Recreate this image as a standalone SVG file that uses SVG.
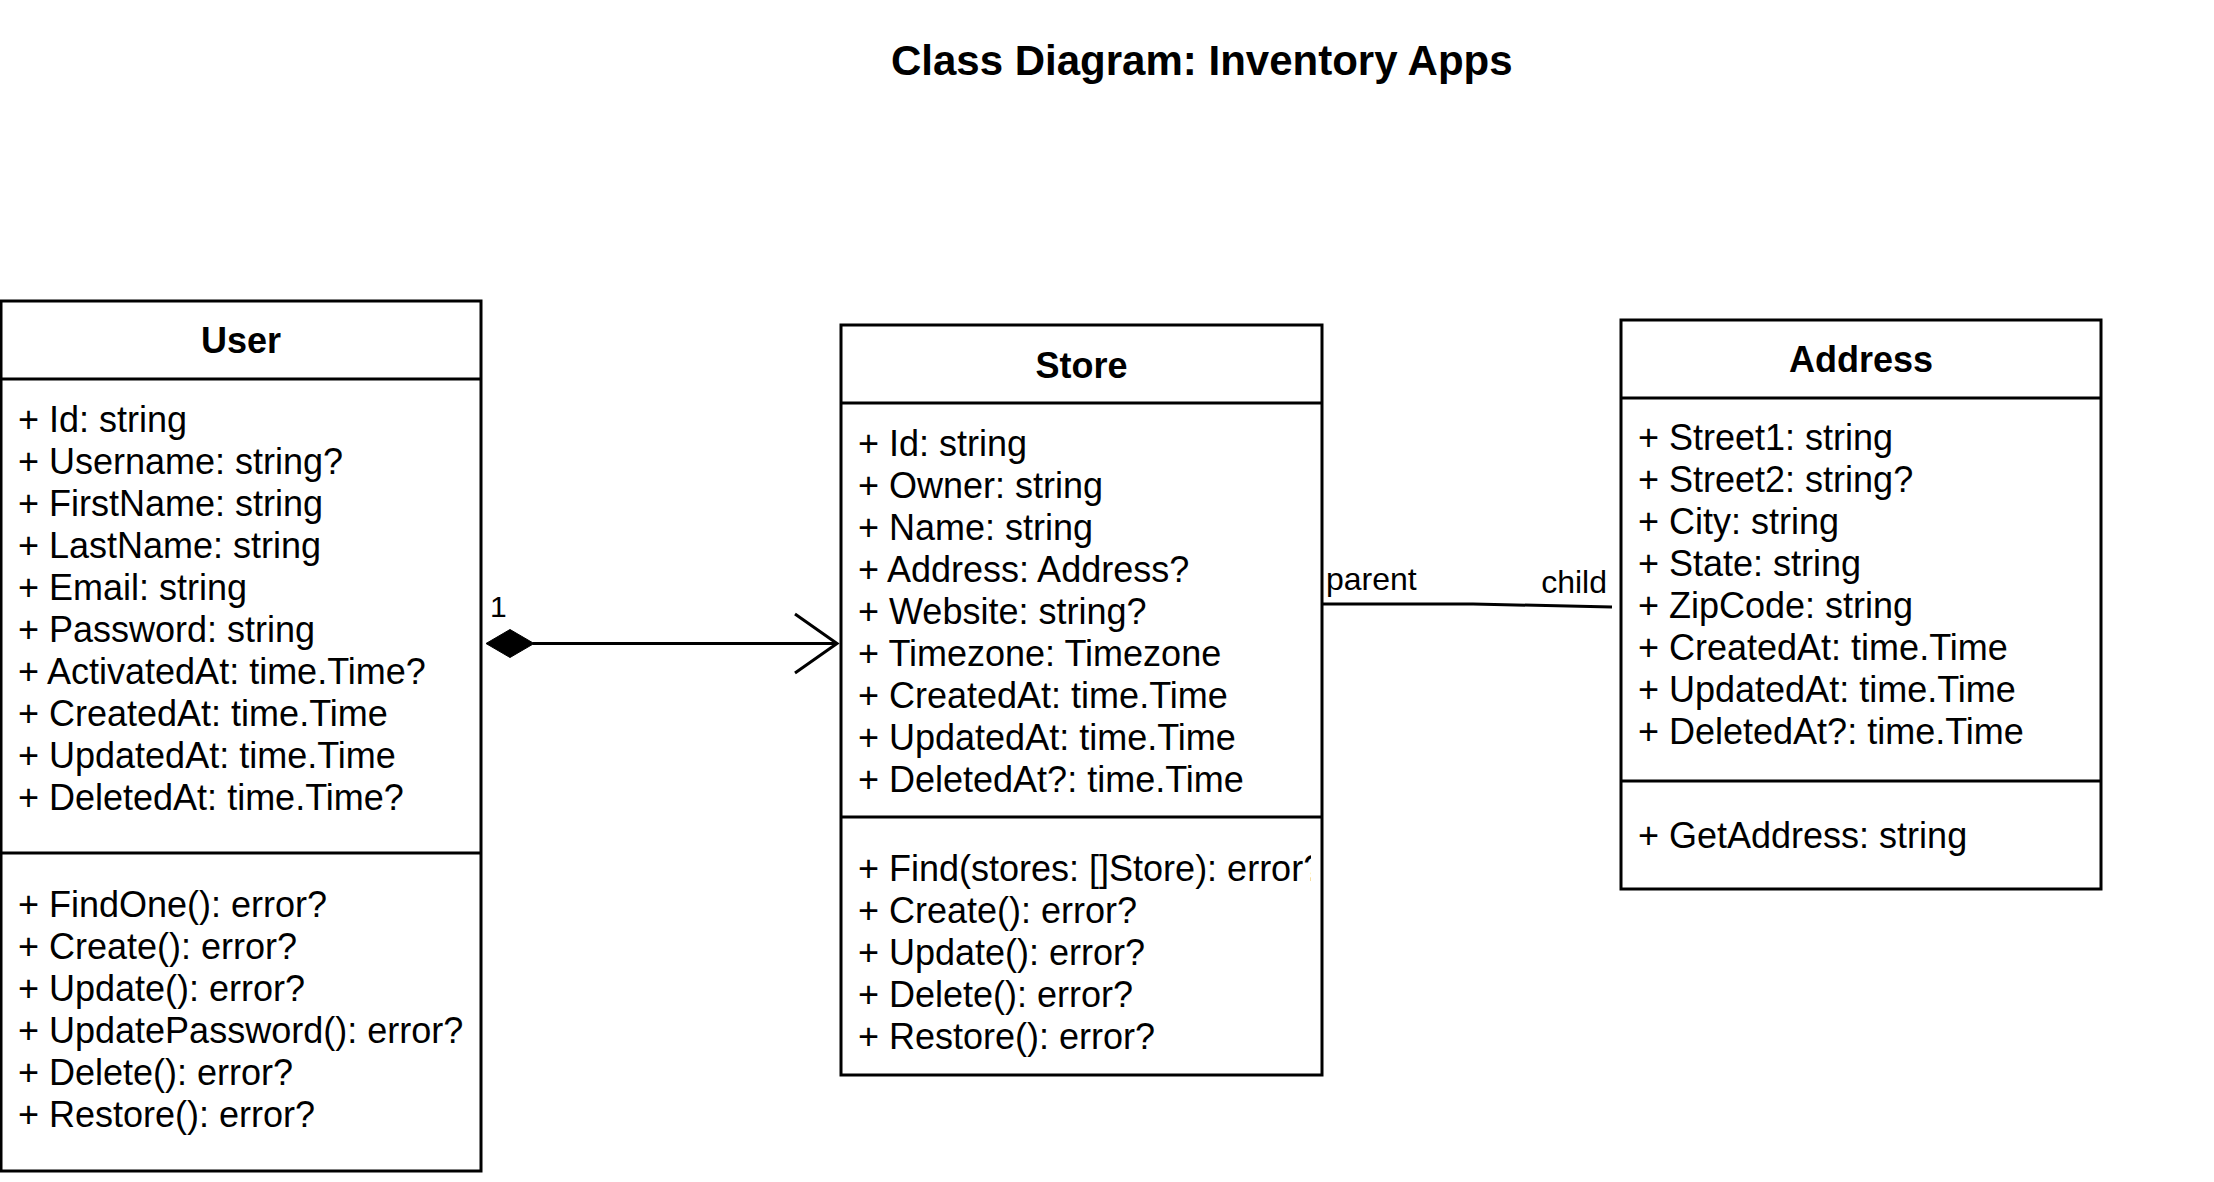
<svg xmlns="http://www.w3.org/2000/svg" width="2214" height="1182" viewBox="0 0 2214 1182">
<style>
.box{fill:#fff;stroke:#000;stroke-width:3}
.sep{stroke:#000;stroke-width:3;fill:none}
.ttl{font-family:"Liberation Sans",Arial,sans-serif;font-weight:bold;font-size:36px;text-anchor:middle;fill:#000}
.att{font-family:"Liberation Sans",Arial,sans-serif;font-size:36px;fill:#000}
.lbl{font-family:"Liberation Sans",Arial,sans-serif;font-size:32px;fill:#000}
.edge{stroke:#000;stroke-width:3;fill:none}
</style>
<defs>
<clipPath id="storeClip"><rect x="842" y="818" width="469" height="256"/></clipPath>
</defs>
<rect width="2214" height="1182" fill="#fff"/>
<text x="891" y="75" font-family="Liberation Sans, Arial, sans-serif" font-weight="bold" font-size="42">Class Diagram: Inventory Apps</text>

<g id="user">
<rect class="box" x="1" y="301" width="480" height="870"/>
<line class="sep" x1="1" y1="379" x2="481" y2="379"/>
<line class="sep" x1="1" y1="853" x2="481" y2="853"/>
<text class="ttl" x="241" y="353">User</text>
<text class="att" x="18" y="431.5">+ Id: string</text>
<text class="att" x="18" y="473.5">+ Username: string?</text>
<text class="att" x="18" y="515.5">+ FirstName: string</text>
<text class="att" x="18" y="557.5">+ LastName: string</text>
<text class="att" x="18" y="599.5">+ Email: string</text>
<text class="att" x="18" y="641.5">+ Password: string</text>
<text class="att" x="18" y="683.5">+ ActivatedAt: time.Time?</text>
<text class="att" x="18" y="725.5">+ CreatedAt: time.Time</text>
<text class="att" x="18" y="767.5">+ UpdatedAt: time.Time</text>
<text class="att" x="18" y="809.5">+ DeletedAt: time.Time?</text>
<text class="att" x="18" y="917">+ FindOne(): error?</text>
<text class="att" x="18" y="959">+ Create(): error?</text>
<text class="att" x="18" y="1001">+ Update(): error?</text>
<text class="att" x="18" y="1043">+ UpdatePassword(): error?</text>
<text class="att" x="18" y="1085">+ Delete(): error?</text>
<text class="att" x="18" y="1127">+ Restore(): error?</text>
</g>

<g id="store">
<rect class="box" x="841" y="325" width="481" height="750"/>
<line class="sep" x1="841" y1="403" x2="1322" y2="403"/>
<line class="sep" x1="841" y1="817" x2="1322" y2="817"/>
<text class="ttl" x="1081.5" y="377.5">Store</text>
<text class="att" x="858" y="455.5">+ Id: string</text>
<text class="att" x="858" y="497.5">+ Owner: string</text>
<text class="att" x="858" y="539.5">+ Name: string</text>
<text class="att" x="858" y="581.5">+ Address: Address?</text>
<text class="att" x="858" y="623.5">+ Website: string?</text>
<text class="att" x="858" y="665.5">+ Timezone: Timezone</text>
<text class="att" x="858" y="707.5">+ CreatedAt: time.Time</text>
<text class="att" x="858" y="749.5">+ UpdatedAt: time.Time</text>
<text class="att" x="858" y="791.5">+ DeletedAt?: time.Time</text>
<text class="att" x="858" y="881" clip-path="url(#storeClip)">+ Find(stores: []Store): error?</text>
<text class="att" x="858" y="923">+ Create(): error?</text>
<text class="att" x="858" y="965">+ Update(): error?</text>
<text class="att" x="858" y="1007">+ Delete(): error?</text>
<text class="att" x="858" y="1049">+ Restore(): error?</text>
</g>

<g id="address">
<rect class="box" x="1621" y="320" width="480" height="569"/>
<line class="sep" x1="1621" y1="398" x2="2101" y2="398"/>
<line class="sep" x1="1621" y1="781" x2="2101" y2="781"/>
<text class="ttl" x="1861" y="372">Address</text>
<text class="att" x="1638" y="450">+ Street1: string</text>
<text class="att" x="1638" y="492">+ Street2: string?</text>
<text class="att" x="1638" y="534">+ City: string</text>
<text class="att" x="1638" y="576">+ State: string</text>
<text class="att" x="1638" y="618">+ ZipCode: string</text>
<text class="att" x="1638" y="660">+ CreatedAt: time.Time</text>
<text class="att" x="1638" y="702">+ UpdatedAt: time.Time</text>
<text class="att" x="1638" y="744">+ DeletedAt?: time.Time</text>
<text class="att" x="1638" y="848">+ GetAddress: string</text>
</g>

<g id="connectors">
<line class="edge" x1="533" y1="643.5" x2="836" y2="643.5"/>
<polygon points="486,643.5 510,629.5 534,643.5 510,657.5" fill="#000" stroke="#000" stroke-width="1"/>
<polyline class="edge" points="795,614 837,643.5 795,673"/>
<text x="490" y="617" font-family="Liberation Sans, Arial, sans-serif" font-size="30">1</text>
<polyline class="edge" points="1322,604 1473,604 1612,607"/>
<text class="lbl" x="1326" y="590">parent</text>
<text class="lbl" x="1607" y="593" text-anchor="end">child</text>
</g>
</svg>
